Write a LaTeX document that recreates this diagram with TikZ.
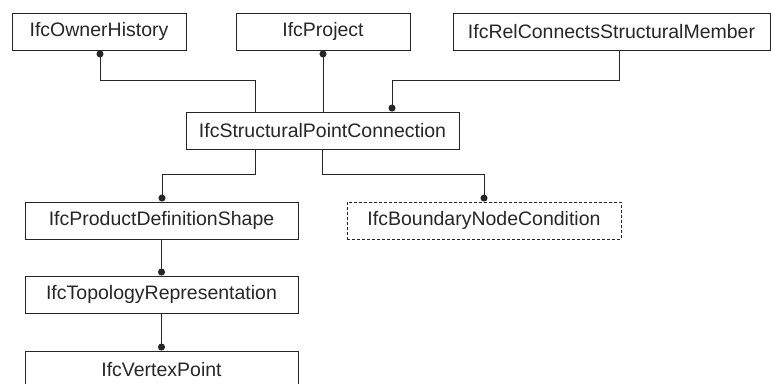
\documentclass[tikz,border=0pt]{standalone}
\usepackage{fontspec}
\setmainfont{Liberation Sans}
\usetikzlibrary{arrows.meta,calc}
\begin{document}
\begin{tikzpicture}[x=1pt,y=-1pt,
  box/.style={draw=black!85, line width=0.9pt, minimum height=37pt, inner sep=0pt,
    font=\fontsize{19.5}{22}\selectfont, text=black!85},
  dbox/.style={box, dashed, dash pattern=on 3pt off 2pt},
  conn/.style={draw=black!85, line width=0.9pt},
  dotstart/.style={conn, {Circle[length=7pt,width=7pt]}-},
  dotend/.style={conn, -{Circle[length=7pt,width=7pt]}}]
\clip (0,0) rectangle (771,383);
\node[box, minimum width=174pt] (OH) at (99,31.5) {IfcOwnerHistory};
\node[box, minimum width=174pt] (PR) at (323,31.5) {IfcProject};
\node[box, minimum width=317pt] (RC) at (611.5,31.5) {IfcRelConnectsStructuralMember};
\node[box, minimum width=273pt] (SPC) at (322.5,130.5) {IfcStructuralPointConnection};
\node[box, minimum width=273pt] (PDS) at (161.5,220.5) {IfcProductDefinitionShape};
\node[dbox, minimum width=274pt] (BN) at (484,220.5) {IfcBoundaryNodeCondition};
\node[box, minimum width=273pt] (TR) at (161.5,294.5) {IfcTopologyRepresentation};
\node[box, minimum width=273pt] (VP) at (161.5,369.5) {IfcVertexPoint};
% connectors
\draw[dotstart] ($(OH.south)+(1,0)$) |- ($(SPC.north)+(-67.5,-31)$) -- ($(SPC.north)+(-67.5,0)$);
\draw[dotstart] (PR.south) -- (PR.south |- SPC.north);
\draw[dotend] ($(RC.south)+(7.5,0)$) |- ($(SPC.north)+(69.5,-31)$) -- ($(SPC.north)+(69.5,0)$);
\draw[dotend] ($(SPC.south)+(-67.5,0)$) |- ($(PDS.north)+(0.5,-27)$) -- ($(PDS.north)+(0.5,0)$);
\draw[dotend] (SPC.south) |- ($(BN.north)+(0,-27)$) -- (BN.north);
\draw[dotend] (PDS.south) -- (TR.north);
\draw[dotend] (TR.south) -- (VP.north);
\end{tikzpicture}
\end{document}
